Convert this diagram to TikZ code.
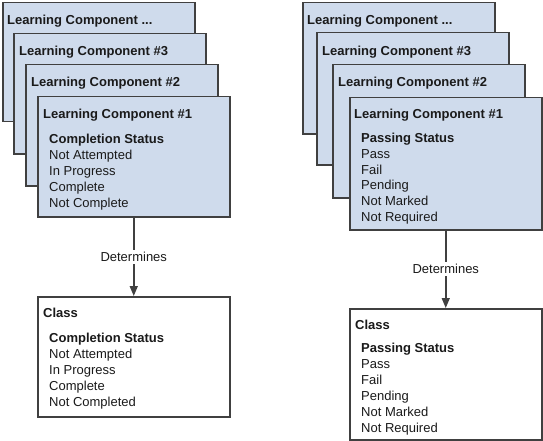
\documentclass[tikz,border=0pt]{standalone}
\usepackage{fontspec}
\setmainfont{Liberation Sans}
\usetikzlibrary{arrows.meta}
\definecolor{cardblue}{HTML}{CFDBEC}
\definecolor{edge}{HTML}{404040}
\definecolor{ink}{HTML}{1A1A1A}
\begin{document}
\begin{tikzpicture}
	[x=1pt, y=-1pt, inner sep=0pt,
	card/.style={rectangle,draw=edge,fill=cardblue,line width=1.5pt,anchor=north west,minimum width=192pt},
	classbox/.style={rectangle,draw=edge,fill=white,line width=1.5pt,anchor=north west,minimum width=192pt},
	title/.style={anchor=base west,text=ink,font=\fontsize{13}{16}\selectfont\bfseries},
	item/.style={anchor=base west,text=ink,font=\fontsize{13}{16}\selectfont},
	link/.style={draw=edge,line width=1.5pt,-{Triangle[length=10pt,width=8pt]}},
	tag/.style={fill=white,inner sep=2pt,text=ink,font=\fontsize{13}{16}\selectfont}]
	\useasboundingbox (0,0) rectangle (543,441);
	% completion status stack
	\node (l4) at (2, 2) [card, minimum height=119pt] {};
	\node (l4t) at (7, 24.7) [title] {Learning Component ...};
	\node (l3) at (13, 33) [card, minimum height=120pt] {};
	\node (l3t) at (19, 55.7) [title] {Learning Component \#3};
	\node (l2) at (25, 64) [card, minimum height=121pt] {};
	\node (l2t) at (31, 86.7) [title] {Learning Component \#2};
	\node (l1) at (37, 96) [card, minimum height=120pt] {};
	\node (l1t) at (43, 118.7) [title] {Learning Component \#1};
	\node (l1h) at (49, 143.2) [title] {Completion Status};
	\foreach \t [count=\i] in {Not Attempted, In Progress, Complete, Not Complete}
		\node (l1-\i) at (49, 143.2+16*\i) [item] {\t};
	\node (cl) at (37, 296) [classbox, minimum height=120pt] {};
	\node (clt) at (43, 317.7) [title] {Class};
	\node (clh) at (49, 342.4) [title] {Completion Status};
	\foreach \t [count=\i] in {Not Attempted, In Progress, Complete, Not Completed}
		\node (cl-\i) at (49, 342.4+16*\i) [item] {\t};
	\draw [link] (l1) to node [tag, midway] {Determines} (cl);
	% passing status stack
	\node (r4) at (302, 2) [card, minimum height=131pt] {};
	\node (r4t) at (307, 24.2) [title] {Learning Component ...};
	\node (r3) at (316, 32) [card, minimum height=132pt] {};
	\node (r3t) at (322, 55.7) [title] {Learning Component \#3};
	\node (r2) at (332, 64) [card, minimum height=133pt] {};
	\node (r2t) at (338, 86.7) [title] {Learning Component \#2};
	\node (r1) at (349, 97) [card, minimum height=132pt] {};
	\node (r1t) at (354, 118.7) [title] {Learning Component \#1};
	\node (r1h) at (361, 142.5) [title] {Passing Status};
	\foreach \t [count=\i] in {Pass, Fail, Pending, Not Marked, Not Required}
		\node (r1-\i) at (361, 142.5+15.8*\i) [item] {\t};
	\node (cr) at (349, 308) [classbox, minimum height=131pt] {};
	\node (crt) at (355, 329.7) [title] {Class};
	\node (crh) at (361, 352.5) [title] {Passing Status};
	\foreach \t [count=\i] in {Pass, Fail, Pending, Not Marked, Not Required}
		\node (cr-\i) at (361, 352.5+16*\i) [item] {\t};
	\draw [link] (r1) to node [tag, midway] {Determines} (cr);
\end{tikzpicture}
\end{document}
